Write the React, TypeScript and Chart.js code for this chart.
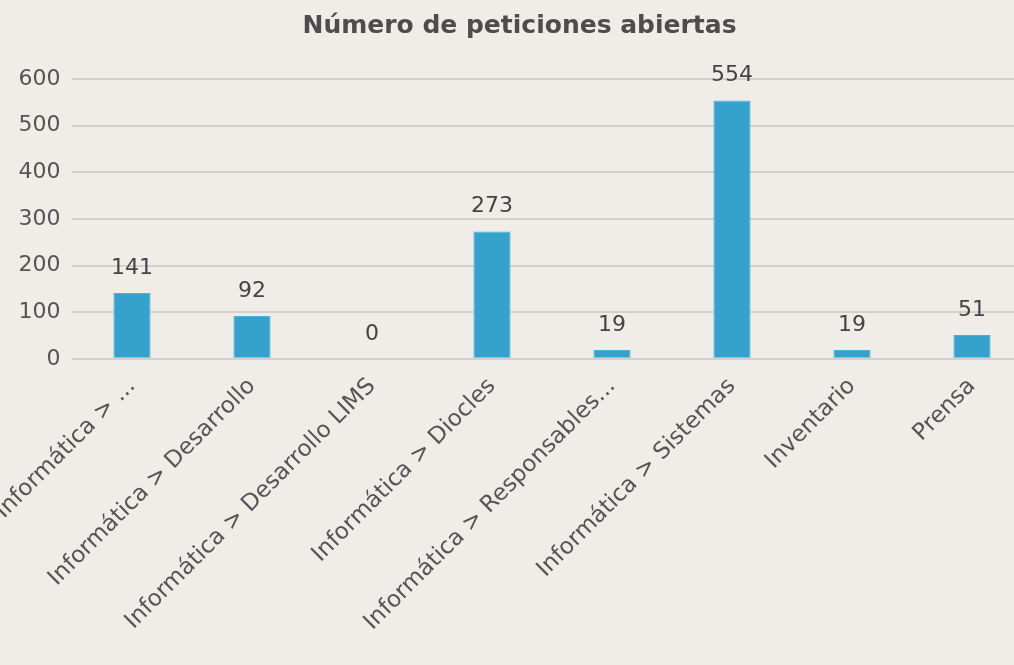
import React, { useEffect, useRef } from "react";
import { Chart, registerables } from "chart.js";

Chart.register(...registerables);

const categories: string[] = [
  "Informática > ...",
  "Informática > Desarrollo",
  "Informática > Desarrollo LIMS",
  "Informática > Diocles",
  "Informática > Responsables...",
  "Informática > Sistemas",
  "Inventario",
  "Prensa",
];
const openRequests: number[] = [141, 92, 0, 273, 19, 554, 19, 51];
const yTicks: number[] = [0, 100, 200, 300, 400, 500, 600];

const TITLE = "Número de peticiones abiertas";
const FONT = "'DejaVu Sans', 'Noto Sans', sans-serif";
const BG = "#f0ece8";

const valueLabels = {
  id: "valueLabels",
  afterDatasetsDraw(chart: any) {
    const ctx = chart.ctx;
    const meta = chart.getDatasetMeta(0);
    const data = chart.data.datasets[0].data as number[];
    ctx.save();
    ctx.font = `22px ${FONT}`;
    ctx.fillStyle = "#444444";
    ctx.textAlign = "center";
    ctx.textBaseline = "middle";
    meta.data.forEach((el: any, i: number) => {
      ctx.fillText(String(data[i]), el.x, el.y - 25);
    });
    ctx.restore();
  },
};

const background = {
  id: "bg",
  beforeDraw(chart: any) {
    const ctx = chart.ctx;
    ctx.save();
    ctx.fillStyle = BG;
    ctx.fillRect(0, 0, chart.width, chart.height);
    ctx.restore();
  },
};

export default function App() {
  const ref = useRef<HTMLCanvasElement | null>(null);

  useEffect(() => {
    document.body.style.margin = "0";
    document.body.style.overflow = "hidden";
    document.body.style.background = BG;
    const canvas = ref.current;
    if (!canvas) return;
    const chart = new Chart(canvas, {
      type: "bar",
      data: {
        labels: categories,
        datasets: [
          {
            data: openRequests,
            backgroundColor: "#35a1cd",
            borderColor: "#4fb0d8",
            borderWidth: 1,
            categoryPercentage: 1,
            barPercentage: 0.31,
          },
        ],
      },
      options: {
        responsive: false,
        animation: false,
        devicePixelRatio: 1,
        layout: { padding: { left: 7, right: 12, top: 0, bottom: 23 } },
        plugins: {
          legend: { display: false },
          tooltip: { enabled: false },
          title: {
            display: true,
            text: TITLE,
            color: "#4d4d4d",
            font: { family: FONT, size: 25, weight: "bold" },
            padding: { top: 11, bottom: 38 },
          },
        },
        scales: {
          x: {
            grid: { display: false },
            border: { display: false },
            afterFit: (scale: any) => {
              scale.paddingLeft = 0;
              scale.paddingRight = 0;
            },
            ticks: {
              color: "#555555",
              font: { family: FONT, size: 23 },
              minRotation: 45,
              maxRotation: 45,
              autoSkip: false,
              padding: 6,
            },
          },
          y: {
            min: 0,
            max: 600,
            afterBuildTicks: (axis: any) => {
              axis.ticks = yTicks.map((v) => ({ value: v }));
            },
            grid: { color: "#d4d1cd", lineWidth: 2, drawTicks: false },
            border: { display: false },
            ticks: {
              color: "#555555",
              font: { family: FONT, size: 22 },
              padding: 11.5,
            },
          },
        },
      },
      plugins: [background, valueLabels],
    });
    return () => chart.destroy();
  }, []);

  return (
    <div style={{ position: "absolute", left: 0, top: 0, width: 1044, height: 665, background: BG }}>
      <canvas ref={ref} width={1044} height={665} />
    </div>
  );
}
